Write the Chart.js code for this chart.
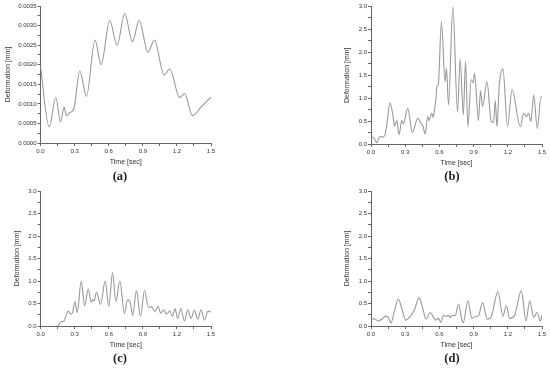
<!DOCTYPE html>
<html>
<head>
<meta charset="utf-8">
<script src="https://cdn.jsdelivr.net/npm/chart.js@4.4.1/dist/chart.umd.min.js"></script>
<style>
  html, body { margin: 0; padding: 0; background: #fff; }
  #page { position: relative; width: 550px; height: 369px; overflow: hidden; }
  .panel { position: absolute; width: 275px; height: 185px; }
  .tag {
    position: absolute;
    font-family: 'Liberation Serif', 'DejaVu Serif', serif;
    font-weight: bold;
    font-size: 12.5px;
    color: #222;
    transform: translate(-50%, -50%);
  }
</style>
</head>
<body>
<div id="page">
  <div class="panel" style="left:0;top:0"><canvas id="chartA" width="275" height="185"></canvas></div>
  <div class="panel" style="left:275px;top:0"><canvas id="chartB" width="275" height="185"></canvas></div>
  <div class="panel" style="left:0;top:185px"><canvas id="chartC" width="275" height="185"></canvas></div>
  <div class="panel" style="left:275px;top:185px"><canvas id="chartD" width="275" height="185"></canvas></div>
  <div class="tag" style="left:120px;top:176px">(a)</div>
  <div class="tag" style="left:452px;top:176px">(b)</div>
  <div class="tag" style="left:120px;top:358px">(c)</div>
  <div class="tag" style="left:452px;top:358px">(d)</div>
</div>
<script>
// (a) deformasi kecil, satuan mm
const aTime = [0, 0.076, 0.135, 0.176, 0.208, 0.228, 0.26, 0.293, 0.346, 0.404, 0.48, 0.533, 0.609, 0.674,
  0.741, 0.809, 0.867, 0.946, 1.002, 1.087, 1.137, 1.225, 1.269, 1.336, 1.42, 1.5];
const aDef = [0.00195, 0.00041, 0.00117, 0.00054, 0.00092, 0.0007, 0.00078, 0.00087, 0.00184, 0.00119, 0.00263, 0.002,
  0.00313, 0.0025, 0.00331, 0.00259, 0.00313, 0.00232, 0.00263, 0.00174, 0.00189, 0.00116, 0.00126, 0.0007,
  0.00094, 0.00117];

// (b)
const bTime = [0, 0.03, 0.05, 0.08, 0.1, 0.123, 0.14, 0.167, 0.196, 0.205, 0.226, 0.246, 0.27, 0.284, 0.322,
  0.363, 0.41, 0.44, 0.454, 0.475, 0.498, 0.51, 0.533, 0.545, 0.557, 0.568, 0.58, 0.59, 0.618, 0.65, 0.662,
  0.68, 0.718, 0.759, 0.782, 0.81, 0.829, 0.85, 0.879, 0.897, 0.908, 0.943, 0.96, 0.979, 1.017, 1.055, 1.075,
  1.09, 1.105, 1.125, 1.157, 1.198, 1.237, 1.31, 1.34, 1.36, 1.383, 1.403, 1.427, 1.459, 1.491, 1.5];
const bDef = [0.16, 0.12, 0.03, 0.17, 0.15, 0.2, 0.45, 0.9, 0.56, 0.39, 0.51, 0.2, 0.51, 0.44, 0.78,
  0.25, 0.56, 0.44, 0.41, 0.22, 0.6, 0.51, 0.67, 0.58, 0.74, 0.96, 1.27, 1.29, 2.67, 1.36, 1.65,
  0.85, 3.0, 0.7, 1.85, 0.63, 1.8, 0.38, 1.4, 1.34, 1.54, 0.51, 1.16, 0.82, 1.36, 0.49, 0.47,
  0.95, 0.38, 1.29, 1.64, 0.39, 1.19, 0.38, 0.67, 0.6, 0.67, 0.49, 1.07, 0.34, 1.03, 1.02];

// (c)
const cTime = [0.15, 0.185, 0.2, 0.243, 0.264, 0.278, 0.302, 0.322, 0.357, 0.387, 0.419, 0.445, 0.457, 0.469,
  0.492, 0.527, 0.568, 0.6, 0.633, 0.662, 0.697, 0.738, 0.765, 0.791, 0.809, 0.844, 0.879, 0.914, 0.949,
  0.976, 1.005, 1.034, 1.058, 1.084, 1.108, 1.137, 1.16, 1.184, 1.207, 1.234, 1.266, 1.295, 1.324, 1.354,
  1.383, 1.412, 1.442, 1.474, 1.5];
const cDef = [0, 0.1, 0.1, 0.33, 0.27, 0.28, 0.54, 0.3, 1.0, 0.45, 0.82, 0.53, 0.58, 0.56,
  0.75, 0.48, 1.0, 0.43, 1.19, 0.54, 1.0, 0.28, 0.58, 0.5, 0.24, 0.78, 0.21, 0.79, 0.41,
  0.43, 0.32, 0.43, 0.28, 0.36, 0.26, 0.33, 0.22, 0.38, 0.17, 0.39, 0.11, 0.36, 0.17, 0.35,
  0.15, 0.36, 0.13, 0.33, 0.31];

// (d)
const dTime = [0, 0.026, 0.064, 0.094, 0.129, 0.152, 0.176, 0.205, 0.24, 0.27, 0.305, 0.343, 0.381, 0.422,
  0.454, 0.483, 0.519, 0.548, 0.568, 0.592, 0.612, 0.636, 0.656, 0.68, 0.694, 0.715, 0.738, 0.768, 0.791,
  0.809, 0.85, 0.885, 0.914, 0.943, 0.979, 1.02, 1.055, 1.113, 1.157, 1.187, 1.216, 1.26, 1.319, 1.36,
  1.392, 1.427, 1.456, 1.486, 1.5];
const dDef = [0.13, 0.16, 0.11, 0.15, 0.22, 0.19, 0.07, 0.33, 0.6, 0.39, 0.13, 0.21, 0.36, 0.63,
  0.39, 0.15, 0.3, 0.19, 0.13, 0.17, 0.08, 0.24, 0.21, 0.23, 0.19, 0.24, 0.23, 0.49, 0.21,
  0.07, 0.56, 0.17, 0.21, 0.23, 0.52, 0.15, 0.21, 0.76, 0.22, 0.45, 0.17, 0.24, 0.78, 0.11,
  0.56, 0.19, 0.3, 0.11, 0.24];

const FONT = "'Liberation Sans', Arial, sans-serif";
const AXIS_COLOR = '#666';
const LINE_COLOR = '#999';
const TEXT_COLOR = '#333';

/**
 * Buat satu panel grafik. Posisi area plot diatur lewat padding + lebar sumbu.
 */
function makePanel(id, times, values, opt) {
    const points = times.map((t, i) => ({ x: t, y: values[i] }));
    new Chart(document.getElementById(id), {
        type: 'line',
        data: {
            datasets: [{
                data: points,
                borderColor: LINE_COLOR,
                borderWidth: 1.1,
                pointRadius: 0,
                cubicInterpolationMode: 'monotone',
                fill: false
            }]
        },
        options: {
            responsive: false,
            animation: false,
            events: [],
            layout: { padding: opt.padding },
            plugins: { legend: { display: false }, tooltip: { enabled: false } },
            scales: {
                x: {
                    type: 'linear',
                    min: 0,
                    max: 1.5,
                    afterFit: (s) => { s.height = 23; },
                    border: { display: true, color: AXIS_COLOR, width: 1 },
                    grid: { drawOnChartArea: false, drawTicks: true, tickLength: 3, color: AXIS_COLOR },
                    ticks: {
                        stepSize: 0.15,
                        autoSkip: false,
                        maxRotation: 0,
                        padding: 2,
                        color: TEXT_COLOR,
                        font: { family: FONT, size: 6 },
                        callback: (v, i) => (i % 2 ? '' : v.toFixed(1))
                    },
                    title: {
                        display: true,
                        text: 'Time [sec]',
                        color: TEXT_COLOR,
                        padding: { top: 0, bottom: 0 },
                        font: { family: FONT, size: 7 }
                    }
                },
                y: {
                    min: 0,
                    max: opt.yMax,
                    afterFit: (s) => { s.width = opt.yWidth; },
                    border: { display: true, color: AXIS_COLOR, width: 1 },
                    grid: { drawOnChartArea: false, drawTicks: true, tickLength: 3, color: AXIS_COLOR },
                    ticks: {
                        stepSize: opt.yStep / 2,
                        autoSkip: false,
                        maxTicksLimit: 100,
                        padding: 1,
                        color: TEXT_COLOR,
                        font: { family: FONT, size: 6 },
                        callback: (v, i) => (i % 2 ? '' : v.toFixed(opt.yDec))
                    },
                    title: {
                        display: true,
                        text: 'Deformation [mm]',
                        color: TEXT_COLOR,
                        padding: { top: 4, bottom: 0 },
                        font: { family: FONT, size: 7 }
                    }
                }
            }
        }
    });
}

makePanel('chartA', aTime, aDef, {
    yMax: 0.0035, yStep: 0.0005, yDec: 4, yWidth: 40.5,
    padding: { left: 0, right: 64, top: 6, bottom: 19 }
});
makePanel('chartB', bTime, bDef, {
    yMax: 3, yStep: 0.5, yDec: 1, yWidth: 32,
    padding: { left: 64, right: 8, top: 6.5, bottom: 18 }
});
makePanel('chartC', cTime, cDef, {
    yMax: 3, yStep: 0.5, yDec: 1, yWidth: 31.7,
    padding: { left: 9, right: 64, top: 6, bottom: 21 }
});
makePanel('chartD', dTime, dDef, {
    yMax: 3, yStep: 0.5, yDec: 1, yWidth: 32,
    padding: { left: 64, right: 8, top: 6, bottom: 21 }
});
</script>
</body>
</html>
